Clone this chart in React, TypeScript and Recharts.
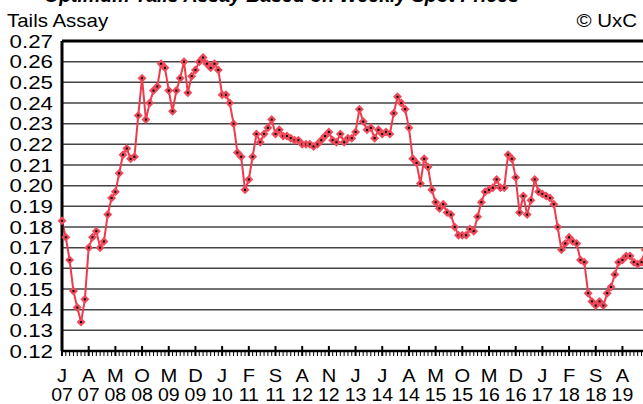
import { CartesianGrid, Line, LineChart, ReferenceLine, XAxis, YAxis } from 'recharts';

// monthly tails assay (%U-235), Jan 2007 onward
const assay = [
  0.183, 0.175, 0.164, 0.149, 0.141, 0.134, 0.145, 0.17, 0.175, 0.178, 0.17, 0.173,
  0.186, 0.194, 0.197, 0.206, 0.215, 0.218, 0.213, 0.214, 0.234, 0.252, 0.232, 0.24,
  0.246, 0.248, 0.259, 0.257, 0.246, 0.236, 0.246, 0.252, 0.26, 0.245, 0.253, 0.256,
  0.26, 0.262, 0.259, 0.257, 0.259, 0.256, 0.244, 0.244, 0.24, 0.23, 0.216, 0.214,
  0.198, 0.203, 0.214, 0.225, 0.221, 0.225, 0.228, 0.232, 0.225, 0.227, 0.224, 0.224,
  0.223, 0.222, 0.222, 0.22, 0.22, 0.22, 0.219, 0.22, 0.222, 0.224, 0.226, 0.222,
  0.221, 0.225, 0.221, 0.223, 0.223, 0.226, 0.237, 0.231, 0.227, 0.228, 0.223, 0.227,
  0.225, 0.226, 0.225, 0.235, 0.243, 0.24, 0.237, 0.228, 0.213, 0.211, 0.201, 0.213,
  0.209, 0.198, 0.192, 0.189, 0.191, 0.187, 0.186, 0.18, 0.176, 0.176, 0.176, 0.179,
  0.178, 0.185, 0.192, 0.197, 0.198, 0.199, 0.203, 0.199, 0.199, 0.215, 0.213, 0.204,
  0.187, 0.195, 0.186, 0.193, 0.203, 0.197, 0.196, 0.195, 0.194, 0.191, 0.18, 0.169,
  0.172, 0.175, 0.173, 0.172, 0.164, 0.163, 0.148, 0.144, 0.142, 0.144, 0.142, 0.148,
  0.151, 0.157, 0.163, 0.164, 0.166, 0.166, 0.163, 0.162, 0.163, 0.169,
];

const yTicks = [0.12, 0.13, 0.14, 0.15, 0.16, 0.17, 0.18, 0.19, 0.2, 0.21, 0.22, 0.23, 0.24, 0.25, 0.26, 0.27];

// a labelled tick every 7 months
const majorLetters = ['J', 'A', 'M', 'O', 'M', 'D', 'J', 'F', 'S', 'A', 'N', 'J', 'J', 'A', 'M', 'O', 'M', 'D', 'J', 'F', 'S', 'A'];
const majorYears = ['07', '07', '08', '08', '09', '09', '10', '11', '11', '12', '12', '13', '14', '14', '15', '15', '16', '16', '17', '18', '18', '19'];

const MONTHS_SHOWN = 160;
const monthTicks = Array.from({ length: MONTHS_SHOWN + 1 }, (_, i) => i);

const rows = assay.map((v, m) => ({ m, v }));

const FONT = '"Liberation Sans", Arial, sans-serif';

function MonthTick(props: any) {
  const { x, y, payload } = props;
  const m = payload.value as number;
  const major = m % 7 === 0;
  const k = m / 7;
  return (
    <g>
      <line
        x1={x}
        x2={x}
        y1={major ? y - 5 : y + 1}
        y2={y + 5}
        stroke="#000"
        strokeWidth={major ? 2 : 1}
      />
      {major && k < majorLetters.length && (
        <>
          <text transform={`translate(${x},${y + 31}) scale(1.08,1)`} textAnchor="middle" fontSize={18.6} fontFamily={FONT} fill="#000">
            {majorLetters[k]}
          </text>
          <text transform={`translate(${x},${y + 50}) scale(1.05,1)`} textAnchor="middle" fontSize={18.6} fontFamily={FONT} fill="#000">
            {majorYears[k]}
          </text>
        </>
      )}
    </g>
  );
}

function AssayTick(props: any) {
  const { x, y, payload } = props;
  return (
    <text
      transform={`translate(${x - 9},${y + 6.6}) scale(1.2,1)`}
      textAnchor="end"
      fontSize={18.6}
      fontFamily={FONT}
      fill="#000"
    >
      {(payload.value as number).toFixed(2)}
    </text>
  );
}

function Diamond(props: any) {
  const { cx, cy, index } = props;
  if (cx == null || cy == null) return <g key={`d${index}`} />;
  const r = 4.5;
  return (
    <g key={`d${index}`}>
      <polygon
        points={`${cx},${cy - r} ${cx + r},${cy} ${cx},${cy + r} ${cx - r},${cy}`}
        fill="#f04a5a"
      />
      <rect x={cx - 1} y={cy - 1} width={2} height={2} fill="#000" />
    </g>
  );
}

export default function App() {
  return (
    <div
      style={{
        position: 'fixed',
        left: 0,
        top: 0,
        width: 643,
        height: 404,
        overflow: 'hidden',
        background: '#fff',
      }}
    >
      <svg width={643} height={40} style={{ position: 'absolute', left: 0, top: 0 }}>
        <text x={44} y={2} fontSize={19.5} fontWeight="bold" fontStyle="italic" fontFamily={FONT} fill="#000">
          Optimum Tails Assay Based on Weekly Spot Prices
        </text>
        <text transform="translate(7,27) scale(1.1,1)" fontSize={18.6} fontFamily={FONT} fill="#000">
          Tails Assay
        </text>
        <text transform="translate(637,27) scale(1.1,1)" textAnchor="end" fontSize={18.6} fontFamily={FONT} fill="#000">
          © UxC
        </text>
      </svg>
      <div style={{ position: 'absolute', left: 0, top: 0 }}>
        <LineChart width={672} height={404} data={rows} margin={{ top: 41, right: 0, bottom: 0, left: 0 }}>
          <CartesianGrid vertical={false} stroke="#444" strokeWidth={1.5} />
          <XAxis
            dataKey="m"
            type="number"
            domain={[0, MONTHS_SHOWN]}
            ticks={monthTicks}
            interval={0}
            height={53}
            tickSize={0}
            tickMargin={0}
            tickLine={false}
            tick={<MonthTick />}
            axisLine={{ stroke: '#000', strokeWidth: 2.5 }}
          />
          <YAxis
            type="number"
            domain={[0.12, 0.27]}
            ticks={yTicks}
            interval={0}
            width={62}
            tickSize={0}
            tickMargin={0}
            tickLine={false}
            tick={<AssayTick />}
            axisLine={{ stroke: '#000', strokeWidth: 3 }}
          />
          <ReferenceLine y={0.27} stroke="#000" strokeWidth={3} />
          <Line
            type="linear"
            dataKey="v"
            stroke="#ee3a4a"
            strokeWidth={2}
            dot={<Diamond />}
            isAnimationActive={false}
          />
        </LineChart>
      </div>
    </div>
  );
}
